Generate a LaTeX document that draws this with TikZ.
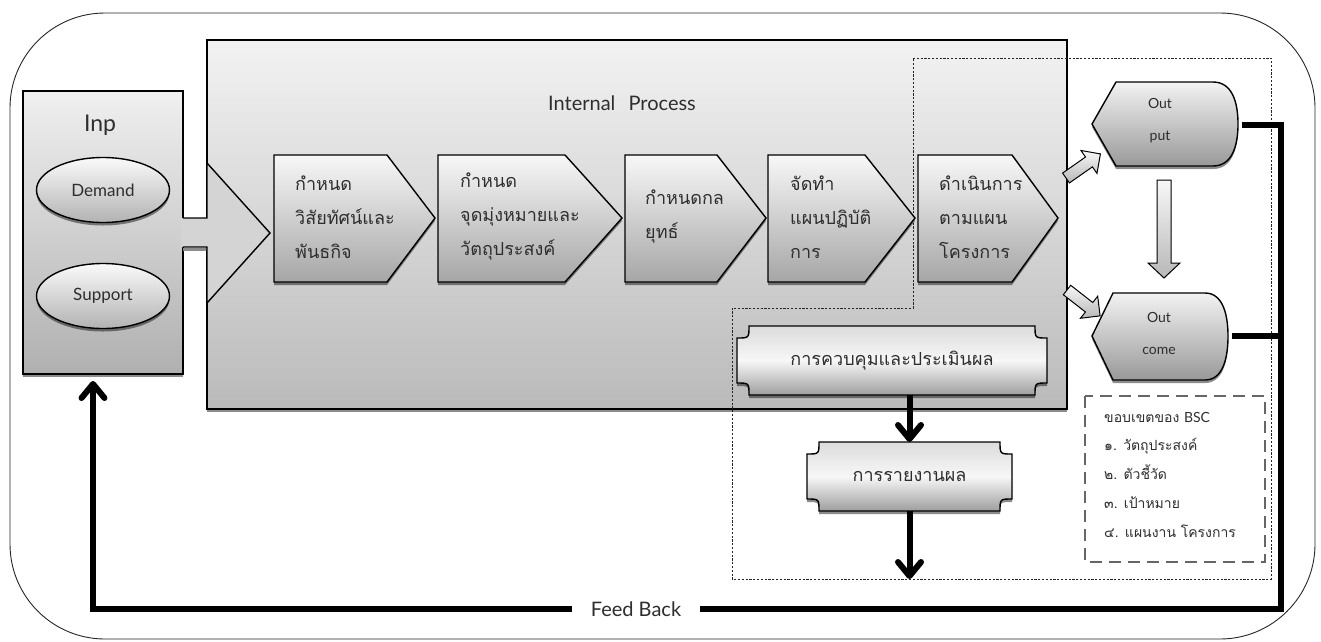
\documentclass[tikz,border=0pt]{standalone}
\usepackage{fontspec}
\setmainfont{Lato}
\newfontfamily\thai[Script=Thai]{Loma}
\usetikzlibrary{shapes.geometric,arrows.meta,shadows}
\newcommand{\chev}[6]{%
  \draw[box,chgrad,shad] (#1,155) -- (#2,155) -- (#3,218) -- (#2,282) -- (#1,282) -- cycle;
  \node[thx] (#4) at (#6,217) {#5};}
\newcommand{\plaque}[5]{%
  \draw[box,plgrad,shad] ({#1+#5},#2) -- ({#3-#5},#2) .. controls ({#3-#5},{#2+#5}) .. (#3,{#2+#5})
    -- (#3,{#4-#5}) .. controls ({#3-#5},{#4-#5}) .. ({#3-#5},#4)
    -- ({#1+#5},#4) .. controls ({#1+#5},{#4-#5}) .. (#1,{#4-#5})
    -- (#1,{#2+#5}) .. controls ({#1+#5},{#2+#5}) .. ({#1+#5},#2) -- cycle;}
\begin{document}
\begin{tikzpicture}[x=1pt,y=-1pt,
  every node/.style={text=black!82},
  frame/.style={draw=black!85,line width=0.9pt},
  box/.style={draw=black,line width=1.4pt,line join=miter},
  shad/.style={drop shadow={shadow xshift=0pt,shadow yshift=-3pt,opacity=0.45,fill=black}},
  ingrad/.style={top color=black!6,bottom color=black!31},
  prgrad/.style={top color=black!5,bottom color=black!27},
  chgrad/.style={top color=black!3,bottom color=black!35},
  ougrad/.style={top color=black!5,bottom color=black!40},
  elgrad/.style={top color=black!2,bottom color=black!30},
  plgrad/.style={top color=black!14,bottom color=black!38,middle color=black!3},
  fbline/.style={draw=black,line width=6pt},
  barb/.style={-{Straight Barb[length=14pt,width=23pt,round]}},
  lat/.style={font=\fontsize{20}{24}\selectfont},
  thx/.style={font=\thai\fontsize{18}{34}\selectfont,align=left,anchor=west,inner sep=0pt},
  dotline/.style={draw=black!85,line width=0.8pt,dash pattern=on 2.2pt off 1.6pt},
  bscline/.style={draw=black!60,line width=1.1pt,dash pattern=on 12pt off 7pt},
  barrow/.style={draw=black,line width=1pt,top color=black!3,bottom color=black!28,line join=miter}
]
\useasboundingbox (0,0) rectangle (1321,641);
\draw[frame,rounded corners=95pt] (10,13) rectangle (1315,639);

% input
\node[box,ingrad,shad,minimum width=160,minimum height=283,anchor=north west,inner sep=0,outer sep=0] (inp) at (23,91) {};
\node[font=\fontsize{23}{26}\selectfont] (inpl) at (100,125) {Inp};
\node[ellipse,box,elgrad,shad,minimum width=133,minimum height=65,inner sep=0,font=\fontsize{17}{20}\selectfont] (dem) at (103,190) {Demand};
\node[ellipse,box,elgrad,shad,minimum width=133,minimum height=65,inner sep=0,font=\fontsize{17}{20}\selectfont] (sup) at (103,296) {Support};

% process
\node[box,prgrad,shad,minimum width=860,minimum height=369,anchor=north west,inner sep=0,outer sep=0] (proc) at (207,40) {};
\node[lat] (proct) at (622,103) {Internal\hspace{8pt} Process};

% big input arrow
\fill[black!45] (183,248) rectangle (207,251);
\fill[black!17] (181,218) -- (207,218) -- (207,163) -- (270,233) -- (207,303) -- (207,247) -- (181,247) -- cycle;
\draw[box] (183,218) -- (207,218) -- (207,163) -- (270,233) -- (207,303) -- (207,247) -- (183,247);

% dotted region
\draw[dotline] (913,58) -- (1271,58) -- (1271,579) -- (732,579) -- (732,308) -- (913,308) -- cycle;

% chevrons
\chev{274}{387}{435}{c1}{กำหนด\\วิสัยทัศน์และ\\พันธกิจ}{295}
\chev{438}{565}{622}{c2}{กำหนด\\จุดมุ่งหมายและ\\วัตถุประสงค์}{460}
\chev{625}{717}{766}{c3}{กำหนดกล\\ยุทธ์}{645}
\chev{768}{865}{915}{c4}{จัดทำ\\แผนปฏิบัติ\\การ}{790}
\chev{918}{1012}{1058}{c5}{ดำเนินการ\\ตามแผน\\โครงการ}{939}

% control and report
\plaque{737}{326}{1047}{395}{12}
\node[font=\thai\fontsize{18}{22}\selectfont,minimum width=310,minimum height=69,inner sep=0,outer sep=0] (ctrl) at (892,360.5) {การควบคุมและประเมินผล};
\plaque{807}{442}{1012}{511}{12}
\node[font=\thai\fontsize{18}{22}\selectfont,minimum width=205,minimum height=69,inner sep=0,outer sep=0] (rep) at (909.5,476.5) {การรายงานผล};
\coordinate (dbot) at (909.5,579);
\draw[fbline,barb] (rep.north |- ctrl.south) -- (rep.north);
\draw[fbline,barb] (rep.south) -- (dbot);

% output / outcome
\draw[box,ougrad,shad] (1092,124) -- (1116,82) -- (1213,82) .. controls (1232,82) and (1238,102) .. (1238,124) .. controls (1238,146) and (1232,166) .. (1213,166) -- (1116,166) -- cycle;
\node[font=\fontsize{14}{32}\selectfont,align=center] (outp) at (1160,121) {Out\\put};
\coordinate (outpE) at (1242,125);
\draw[box,ougrad,shad] (1092,336) -- (1113,293) -- (1205,293) .. controls (1223,293) and (1228,315) .. (1228,336) .. controls (1228,358) and (1223,380) .. (1205,380) -- (1113,380) -- cycle;
\node[font=\fontsize{14}{32}\selectfont,align=center] (outc) at (1159,333) {Out\\come};
\coordinate (outcE) at (1232,336);

% block arrows
\begin{scope}[shift={(1066,178)},rotate=35]
  \draw[barrow] (0,-6) -- (28,-6) -- (28,-14) -- (42,0) -- (28,14) -- (28,6) -- (0,6) -- cycle;
\end{scope}
\begin{scope}[shift={(1067,290)},rotate=-38]
  \draw[barrow] (0,-6) -- (28,-6) -- (28,-14) -- (42,0) -- (28,14) -- (28,6) -- (0,6) -- cycle;
\end{scope}
\begin{scope}[shift={(1164,180)},rotate=-90]
  \draw[barrow] (0,-7) -- (83,-7) -- (83,-16) -- (98,0) -- (83,16) -- (83,7) -- (0,7) -- cycle;
\end{scope}

% BSC box
\draw[bscline] (1085,396) rectangle (1265,562);
\node[font=\thai\fontsize{14}{28.75}\selectfont,align=left,anchor=west,inner sep=0] (bsc) at (1104,474.5) {ขอบเขตของ {\rmfamily BSC}\\๑. วัตถุประสงค์\\๒. ตัวชี้วัด\\๓. เป้าหมาย\\๔. แผนงาน โครงการ};

% feedback
\coordinate (fbend) at (93,381);
\draw[fbline,line join=miter] (outcE) -- (1281,336);
\draw[fbline,barb,line join=miter] (outpE) -- (1281,125) -- (1281,609) -- (93,609) -- (fbend);
\node[fill=white,lat,minimum width=128,inner sep=0,minimum height=18] (fbl) at (636,609) {Feed Back};
\end{tikzpicture}
\end{document}
